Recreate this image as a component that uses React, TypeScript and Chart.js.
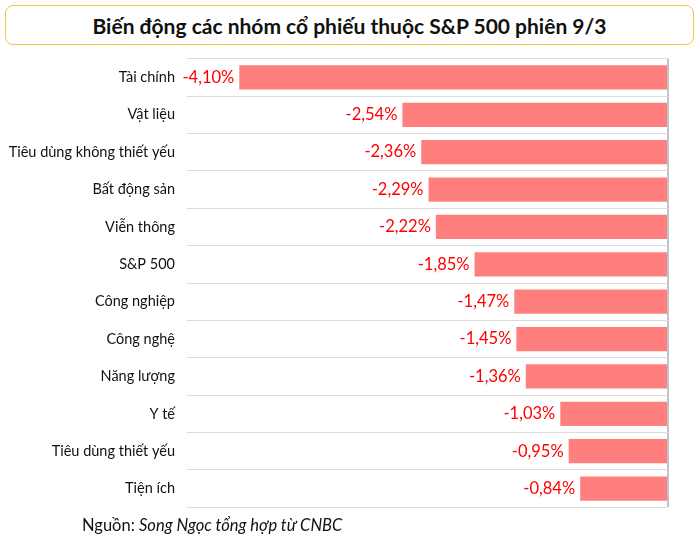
import React, { useEffect, useRef } from "react";
import { Chart, registerables } from "chart.js";

Chart.register(...registerables);

const categories = [
  "Tài chính",
  "Vật liệu",
  "Tiêu dùng không thiết yếu",
  "Bất động sản",
  "Viễn thông",
  "S&P 500",
  "Công nghiệp",
  "Công nghệ",
  "Năng lượng",
  "Y tế",
  "Tiêu dùng thiết yếu",
  "Tiện ích",
];
const values = [-4.1, -2.54, -2.36, -2.29, -2.22, -1.85, -1.47, -1.45, -1.36, -1.03, -0.95, -0.84];
const titleText = "Biến động các nhóm cổ phiếu thuộc S&P 500 phiên 9/3";
const sourceLabel = "Nguồn: ";
const sourceText = "Song Ngọc tổng hợp từ CNBC";

const fmt = (v: number) => v.toFixed(2).replace(".", ",") + "%";

const valueLabels = {
  id: "valueLabels",
  afterDatasetsDraw(chart: any) {
    const ctx = chart.ctx;
    const meta = chart.getDatasetMeta(0);
    ctx.save();
    ctx.font = "16.5px Lato";
    ctx.fillStyle = "#ff0000";
    ctx.textAlign = "right";
    ctx.textBaseline = "middle";
    meta.data.forEach((bar: any, i: number) => {
      ctx.fillText(fmt(values[i]), bar.x - 5, bar.y);
    });
    ctx.restore();
  },
};

export default function App() {
  const ref = useRef<HTMLCanvasElement>(null);
  useEffect(() => {
    if (!ref.current) return;
    const chart = new Chart(ref.current, {
      type: "bar",
      data: {
        labels: categories,
        datasets: [
          {
            data: values,
            backgroundColor: "#ff7f7f",
            barPercentage: 0.65,
            categoryPercentage: 1,
          },
        ],
      },
      options: {
        indexAxis: "y",
        animation: false,
        responsive: false,
        maintainAspectRatio: false,
        layout: { padding: { left: 0, right: 32, top: 8, bottom: 9 } },
        plugins: { legend: { display: false }, tooltip: { enabled: false } },
        scales: {
          x: {
            min: -4.6,
            max: 0,
            ticks: { display: false },
            border: { display: false },
            grid: {
              drawTicks: false,
              lineWidth: 2,
              color: (c: any) => (c.tick && c.tick.value === 0 ? "#bfc3cc" : "rgba(0,0,0,0)"),
            },
          },
          y: {
            border: { display: false },
            grid: { drawTicks: false, color: "#dcdcdc", lineWidth: 1 },
            ticks: { color: "#111", font: { family: "Lato", size: 14.5 }, padding: 12 },
            afterFit: (s: any) => {
              s.width = 187;
            },
          },
        },
      },
      plugins: [valueLabels],
    });
    return () => chart.destroy();
  }, []);

  return (
    <div style={{ position: "fixed", left: 0, top: 0, width: 700, height: 546, background: "#fff" }}>
      <div
        style={{
          position: "absolute",
          left: 5,
          top: 5,
          width: 687,
          height: 38,
          border: "1.5px solid #f5c842",
          borderRadius: 8,
          display: "flex",
          alignItems: "center",
          justifyContent: "center",
          fontFamily: "Lato",
          fontWeight: 700,
          fontSize: 21,
          color: "#111",
        }}
      >
        {titleText}
      </div>
      <canvas ref={ref} width={700} height={490} style={{ position: "absolute", left: 0, top: 38 }} />
      <div
        style={{
          position: "absolute",
          left: 82,
          top: 515,
          fontFamily: "Lato",
          fontSize: 16.5,
          color: "#111",
          whiteSpace: "nowrap",
        }}
      >
        {sourceLabel}
        <i>{sourceText}</i>
      </div>
    </div>
  );
}
